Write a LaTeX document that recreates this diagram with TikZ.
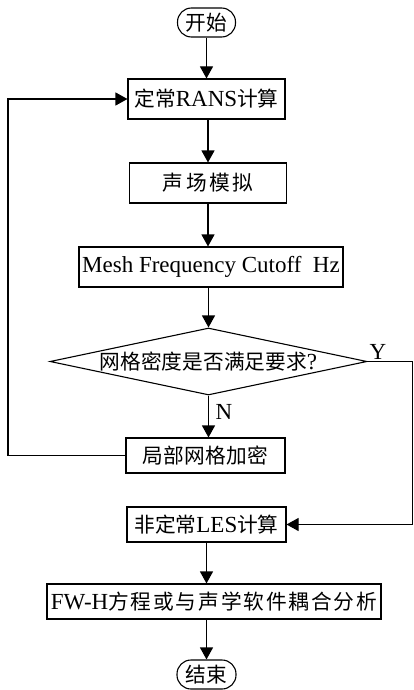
\documentclass[tikz,border=0pt]{standalone}
\usepackage{fontspec}
\setmainfont{Liberation Serif}
\newfontfamily\cjk{Noto Sans CJK SC}[Scale=0.9]
\newcommand\zhtext[1]{{\cjk #1}}
\newcommand\zhsp[2]{{\cjk\addfontfeature{LetterSpace=#1}#2}}
\usetikzlibrary{shapes.geometric,arrows.meta}
\begin{document}
\begin{tikzpicture}[x=1pt,y=-1pt,
  every node/.style={font=\fontsize{23}{26}\selectfont},
  boxn/.style={draw, line width=1.1pt, inner sep=0pt, minimum height=40pt},
  termn/.style={draw, line width=1.1pt, inner sep=0pt, rounded corners=14pt, minimum width=58pt, minimum height=29pt},
  decn/.style={draw, line width=1.1pt, diamond, aspect=4.7, inner sep=0pt, minimum width=317pt, minimum height=67pt},
  arr/.style={line width=1.1pt, -{Triangle[width=13pt,length=12pt]}},
  lbl/.style={inner sep=0pt}]
\useasboundingbox (0,0) rectangle (414,690);
\node[termn] (start) at (206.5,22.5) {\zhtext{开始}};
\node[boxn, minimum width=157pt] (rans) at (206.5,99) {\zhtext{定常}RANS\zhtext{计算}};
\node[boxn, minimum width=157pt] (sim) at (208,183) {\zhsp{12}{声场模拟}};
\node[boxn, minimum width=264pt] (mesh) at (211,267) {Mesh Frequency Cutoff\ \ Hz};
\node[decn] (dec) at (208.5,361.5) {\zhtext{网格密度是否满足要求}?};
\node[boxn, minimum width=159pt, minimum height=35pt] (ref) at (205.5,455.5) {\zhsp{2}{局部网格加密}};
\node[boxn, minimum width=159pt, minimum height=35pt] (les) at (206.5,524.5) {\zhtext{非定常}LES\zhtext{计算}};
\node[boxn, minimum width=334pt, minimum height=35pt] (fwh) at (214,601.5) {FW-H\zhsp{9}{方程或与声学软件耦合分析}};
\node[termn, minimum width=59pt] (end) at (206.5,674.5) {\zhtext{结束}};
\node[lbl] (ylab) at (378,352) {Y};
\node[lbl] (nlab) at (224,412) {N};
\coordinate (lp) at (8,0);
\coordinate (yr) at (412.5,0);
\draw[arr] (start.south) -- (start.south |- rans.north);
\draw[arr] (rans.south -| sim.north) -- (sim.north);
\draw[arr] (sim.south) -- (sim.south |- mesh.north);
\draw[arr] (dec.north |- mesh.south) -- (dec.north);
\draw[arr] (dec.south) -- (dec.south |- ref.north);
\draw[line width=1.1pt] (ref.west) -- (ref.west -| lp);
\draw[arr] (ref.west -| lp) |- (rans.west);
\draw[line width=1.1pt] (dec.east) -- (dec.east -| yr);
\draw[arr] (dec.east -| yr) |- (les.east);
\draw[arr] (les.south) -- (les.south |- fwh.north);
\draw[arr] (les.south |- fwh.south) -- (les.south |- end.north);
\end{tikzpicture}
\end{document}
